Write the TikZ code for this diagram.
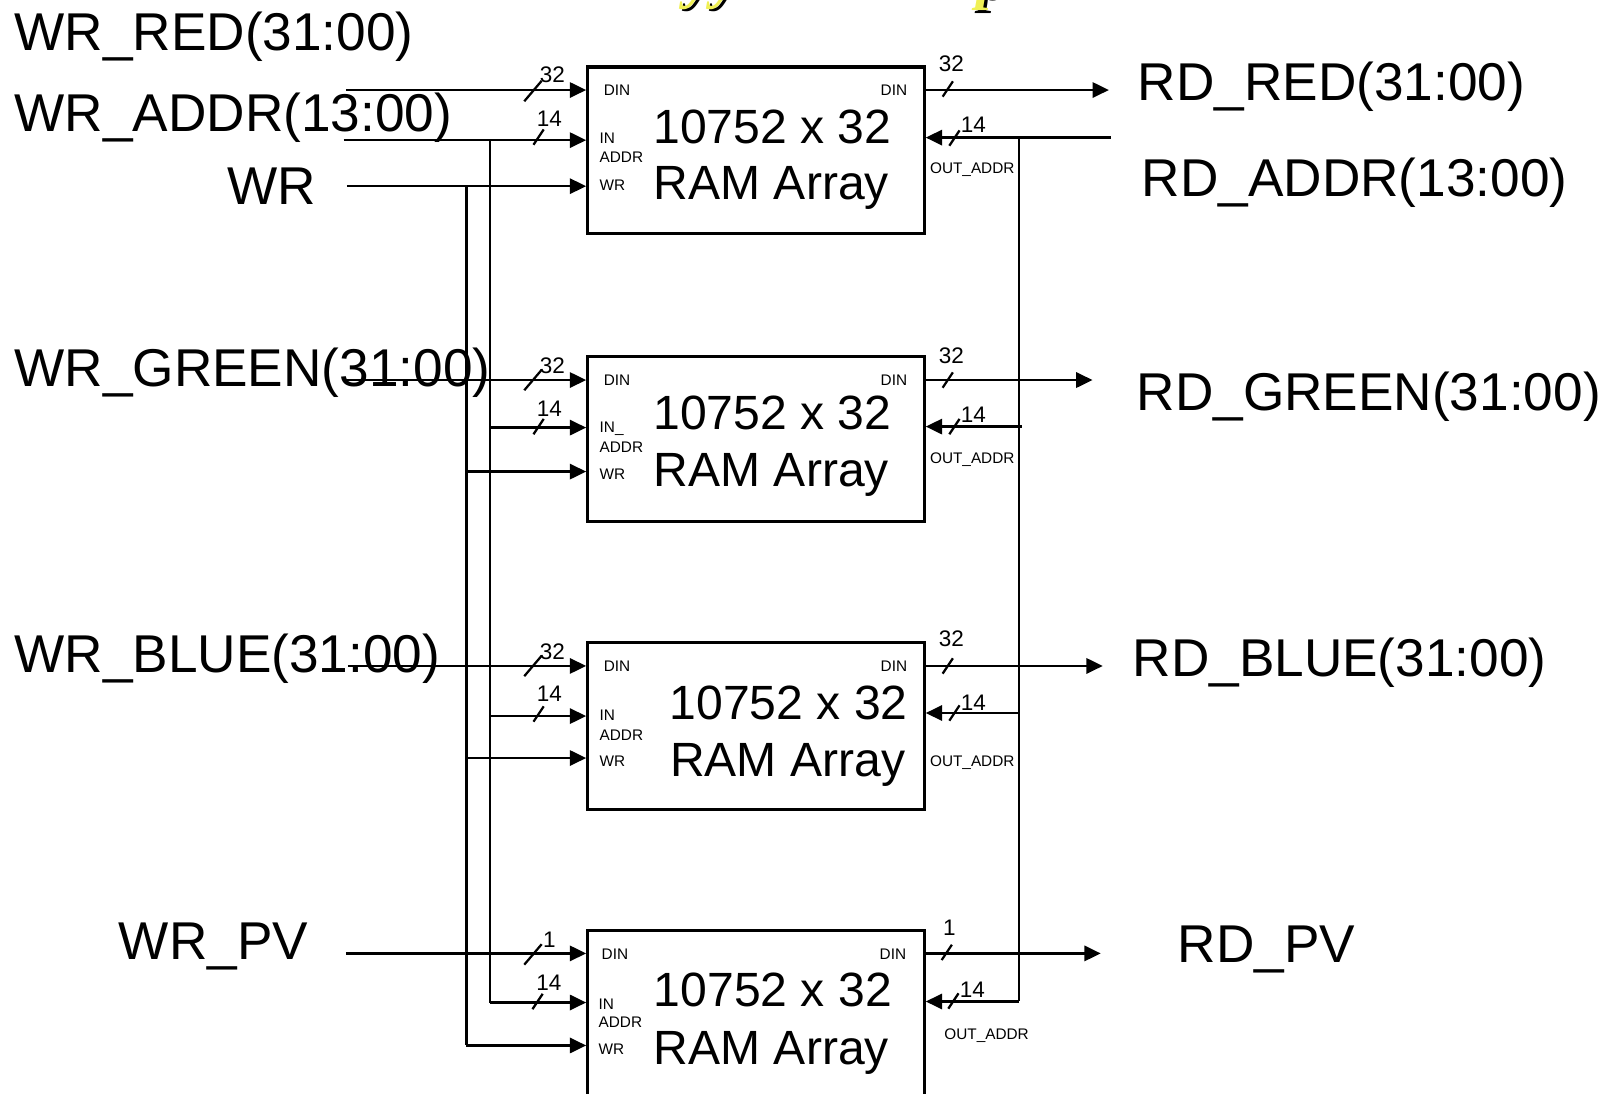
\documentclass[tikz,border=0pt]{standalone}
\usepackage{fontspec}
\setmainfont{Liberation Sans}
\newfontfamily\titleserif{Liberation Serif}
\usetikzlibrary{arrows.meta}
\definecolor{titleyellow}{RGB}{240,240,85}
\begin{document}
\begin{tikzpicture}[x=1pt,y=-1pt,
  wire/.style={line width=2.2pt},
  arr/.style={line width=2.2pt,-{Triangle[length=16pt,width=15pt]}},
  ram/.style={draw,line width=3pt,minimum width=329pt,minimum height=163pt,inner sep=0pt,anchor=north west},
  biglabel/.style={font=\fontsize{52}{60}\selectfont,inner sep=0pt,anchor=base west},
  ramtext/.style={font=\fontsize{47}{56}\selectfont,inner sep=0pt,anchor=base},
  pinlabel/.style={font=\fontsize{15}{18}\selectfont,inner sep=0pt,anchor=base west},
  pinlabelr/.style={pinlabel,anchor=base east},
  bitlabel/.style={font=\fontsize{22}{26}\selectfont,inner sep=0pt},
  titletext/.style={font=\titleserif\bfseries\itshape\fontsize{60}{70}\selectfont,inner sep=0pt,anchor=base west},
  bigslash/.pic={\draw[line width=2.2pt] (-8.5,10) -- (8.5,-10);},
  smallslash/.pic={\draw[line width=2.2pt] (-5,7.5) -- (5,-7.5);}
]
\clip (0,0) rectangle (1568,1069);

% cut-off title fragments
\node[titletext,text=black] (ttlAs) at (673,-1) {yy};
\node[titletext,text=titleyellow] (ttlA) at (670,-3) {yy};
\node[titletext,text=black] (ttlBs) at (957,0) {p};
\node[titletext,text=titleyellow] (ttlB) at (954,-2) {p};

% labels
\node[biglabel] (wrred) at (14,49) {WR\_RED(31:00)};
\node[biglabel] (wraddr) at (14,129) {WR\_ADDR(13:00)};
\node[biglabel] (wr) at (222,200) {WR};
\node[biglabel] (wrgreen) at (14,378) {WR\_GREEN(31:00)};
\node[biglabel] (wrblue) at (14,657) {WR\_BLUE(31:00)};
\node[biglabel] (wrpv) at (116,938) {WR\_PV};
\node[biglabel] (rdred) at (1112,98) {RD\_RED(31:00)};
\node[biglabel] (rdaddr) at (1116,192.5) {RD\_ADDR(13:00)};
\node[biglabel] (rdgreen) at (1111,401) {RD\_GREEN(31:00)};
\node[biglabel] (rdblue) at (1107,661) {RD\_BLUE(31:00)};
\node[biglabel] (rdpv) at (1151,941) {RD\_PV};

% RAM boxes
\node[ram] (r1) at (573,64) {};
\node[ram,minimum height=161pt] (r2) at (573,347) {};
\node[ram] (r3) at (573,627) {};
\node[ram] (r4) at (573,908) {};

% box texts
\node[ramtext] (r1a) at (755,140) {10752 x 32};
\node[ramtext] (r1b) at (754,195.5) {RAM Array};
\node[ramtext] (r2a) at (755,420) {10752 x 32};
\node[ramtext] (r2b) at (754,476) {RAM Array};
\node[ramtext] (r3a) at (771,703.5) {10752 x 32};
\node[ramtext] (r3b) at (770,759) {RAM Array};
\node[ramtext] (r4a) at (755.5,984) {10752 x 32};
\node[ramtext] (r4b) at (754,1041) {RAM Array};

% pin labels
\node[pinlabel] (p1d) at (590,93.5) {DIN};
\node[pinlabel] (p1i) at (586,140.5) {IN};
\node[pinlabel] (p1a) at (586,159) {ADDR};
\node[pinlabel] (p1w) at (586,186) {WR};
\node[pinlabelr] (p1o) at (887,93.5) {DIN};
\node[pinlabel] (p1oa) at (909,170) {OUT\_ADDR};

\node[pinlabel] (p2d) at (590,376.5) {DIN};
\node[pinlabel] (p2i) at (586,422.5) {IN\_};
\node[pinlabel] (p2a) at (586,442) {ADDR};
\node[pinlabel] (p2w) at (586,469) {WR};
\node[pinlabelr] (p2o) at (887,376.5) {DIN};
\node[pinlabel] (p2oa) at (909,453) {OUT\_ADDR};

\node[pinlabel] (p3d) at (590,656.5) {DIN};
\node[pinlabel] (p3i) at (586,704) {IN};
\node[pinlabel] (p3a) at (586,723.5) {ADDR};
\node[pinlabel] (p3w) at (586,749.5) {WR};
\node[pinlabelr] (p3o) at (887,656.5) {DIN};
\node[pinlabel] (p3oa) at (909,749.5) {OUT\_ADDR};

\node[pinlabel] (p4d) at (588,938) {DIN};
\node[pinlabel] (p4i) at (585,987) {IN};
\node[pinlabel] (p4a) at (585,1004.5) {ADDR};
\node[pinlabel] (p4w) at (585,1031) {WR};
\node[pinlabelr] (p4o) at (886,938) {DIN};
\node[pinlabel] (p4oa) at (923,1016) {OUT\_ADDR};

% wire end points
\coordinate (in1d) at (338,88);
\coordinate (in1a) at (336,137);
\coordinate (in1w) at (339,182);
\coordinate (in2d) at (336,371.5);
\coordinate (in3d) at (340,651);
\coordinate (in4d) at (338,932);
\coordinate (bw1) at (456,182);
\coordinate (bw2) at (456,461);
\coordinate (bw3) at (456,741);
\coordinate (bw4) at (456,1022);
\coordinate (ba1) at (479,137);
\coordinate (ba2) at (479,418);
\coordinate (ba3) at (479,700);
\coordinate (ba4) at (479,980);
\coordinate (out1) at (1084,88);
\coordinate (out2) at (1068,371.5);
\coordinate (out3) at (1078,651);
\coordinate (out4) at (1076,932);
\coordinate (oa1) at (1086,134.5);
\coordinate (oa2) at (999,417);
\coordinate (oa3) at (997,697);
\coordinate (oa4) at (996,979);
\coordinate (rb1) at (996,134.5);

% buses
\draw[wire] (bw1) -- (bw4);
\draw[wire] (ba1) -- (ba4);
\draw[wire] (rb1) -- (oa4);

% inputs
\draw[arr] (in1d) -- (in1d -| r1.west);
\draw[arr] (in1a) -- (in1a -| r1.west);
\draw[arr] (in1w) -- (in1w -| r1.west);
\draw[arr] (in2d) -- (in2d -| r2.west);
\draw[arr] (ba2) -- (ba2 -| r2.west);
\draw[arr] (bw2) -- (bw2 -| r2.west);
\draw[arr] (in3d) -- (in3d -| r3.west);
\draw[arr] (ba3) -- (ba3 -| r3.west);
\draw[arr] (bw3) -- (bw3 -| r3.west);
\draw[arr] (in4d) -- (in4d -| r4.west);
\draw[arr] (ba4) -- (ba4 -| r4.west);
\draw[arr] (bw4) -- (bw4 -| r4.west);

% outputs
\draw[arr] (out1 -| r1.east) -- (out1);
\draw[arr] (out2 -| r2.east) -- (out2);
\draw[arr] (out3 -| r3.east) -- (out3);
\draw[arr] (out4 -| r4.east) -- (out4);
\draw[arr] (oa1) -- (oa1 -| r1.east);
\draw[arr] (oa2) -- (oa2 -| r2.east);
\draw[arr] (oa3) -- (oa3 -| r3.east);
\draw[arr] (oa4) -- (oa4 -| r4.east);

% bus width marks
\pic at (521,89) {bigslash};
\pic at (526.5,134) {smallslash};
\pic at (521,371.5) {bigslash};
\pic at (526.5,417) {smallslash};
\pic at (521,651) {bigslash};
\pic at (526.5,698) {smallslash};
\pic at (521,933) {bigslash};
\pic at (525.5,979) {smallslash};
\pic at (926.5,87) {smallslash};
\pic at (933,135) {smallslash};
\pic at (926.5,371.5) {smallslash};
\pic at (933,417) {smallslash};
\pic at (926.5,651) {smallslash};
\pic at (933,697) {smallslash};
\pic at (925.5,931) {smallslash};
\pic at (932,978.5) {smallslash};

\node[bitlabel] (b1d) at (540,73) {32};
\node[bitlabel] (b1a) at (537,116) {14};
\node[bitlabel] (b2d) at (540,357.5) {32};
\node[bitlabel] (b2a) at (537,399.5) {14};
\node[bitlabel] (b3d) at (540,637) {32};
\node[bitlabel] (b3a) at (537,678) {14};
\node[bitlabel] (b4d) at (537,919) {1};
\node[bitlabel] (b4a) at (536.5,961) {14};
\node[bitlabel] (c1d) at (930,62) {32};
\node[bitlabel] (c1a) at (951.5,122) {14};
\node[bitlabel] (c2d) at (930,347.5) {32};
\node[bitlabel] (c2a) at (951.5,405.5) {14};
\node[bitlabel] (c3d) at (930,624.5) {32};
\node[bitlabel] (c3a) at (951.5,686.5) {14};
\node[bitlabel] (c4d) at (928,907) {1};
\node[bitlabel] (c4a) at (950.5,968) {14};
\end{tikzpicture}
\end{document}
